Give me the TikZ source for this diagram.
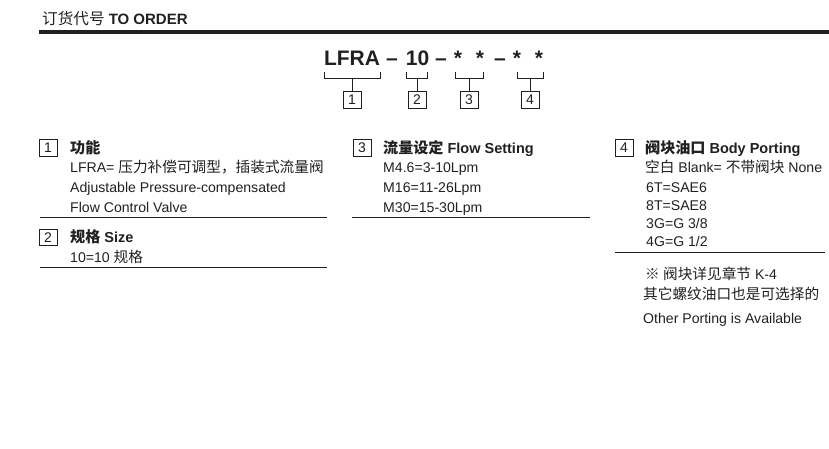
\documentclass[tikz,border=0pt]{standalone}
\usepackage{fontspec}
\setmainfont{Liberation Sans}
\newfontfamily\cjk[Scale=1.04]{Noto Sans CJK SC}
\newcommand\zh[1]{{\cjk #1}}
\newcommand\zhr[1]{{\cjk\mdseries #1}}
\newcommand\fsz[1]{\fontsize{#1}{#1}\selectfont}
\definecolor{ink}{HTML}{231F20}
\begin{document}
\begin{tikzpicture}[x=1pt,y=-1pt,
  txt/.style={anchor=base west,inner sep=0pt,text=ink,font=\fsz{14.1}},
  hd/.style={anchor=base west,inner sep=0pt,text=ink,font=\fsz{14.5}\bfseries},
  code/.style={anchor=base,inner sep=0pt,text=ink,font=\fsz{21}\bfseries},
  numbox/.style={draw=ink,line width=0.8pt,minimum width=18,minimum height=16.5,inner sep=0pt,text=ink,font=\fsz{14}},
  rule/.style={draw=ink,line width=0.9pt},
  brk/.style={draw=ink,line width=0.9pt}]
\useasboundingbox (0,0) rectangle (829,448);

% title
\node[anchor=base west,inner sep=0pt,text=ink,font=\fsz{15}\bfseries] (title) at (42,24) {\zhr{订货代号} TO ORDER};
\coordinate (tl) at (39,32);
\coordinate (tr) at (829,32);
\draw[draw=ink,line width=4pt] (tl) -- (tr);

% code
\node[code] (c1) at (352,65) {LFRA};
\node[code] (c2) at (392,65) {–};
\node[code] (c3) at (417.5,65) {10};
\node[code] (c4) at (441,65) {–};
\node[code] (c5) at (458,65) {*};
\node[code] (c6) at (480,65) {*};
\node[code] (c7) at (500,65) {–};
\node[code] (c8) at (517,65) {*};
\node[code] (c9) at (539,65) {*};

% number boxes under code
\node[numbox] (b1) at (352,100) {1};
\node[numbox] (b2) at (417,100) {2};
\node[numbox] (b3) at (469,100) {3};
\node[numbox] (b4) at (530,100) {4};

\coordinate (k1l) at (324,72); \coordinate (k1r) at (380,72); \coordinate (k1m) at (352,78);
\coordinate (k2l) at (406,72); \coordinate (k2r) at (427,72); \coordinate (k2m) at (417,78);
\coordinate (k3l) at (455,72); \coordinate (k3r) at (483,72); \coordinate (k3m) at (469,78);
\coordinate (k4l) at (517,72); \coordinate (k4r) at (543,72); \coordinate (k4m) at (530,78);
\foreach \i in {1,2,3,4}{
  \draw[brk] (k\i l) -- (k\i l |- k\i m) -- (k\i r |- k\i m) -- (k\i r);
  \draw[brk] (k\i m) -- (b\i.north);
}

% section 1
\node[numbox] (s1) at (48,148) {1};
\node[hd] (h1) at (70,153) {\zh{功能}};
\node[txt] (t11) at (70,172) {LFRA= \zh{压力补偿可调型，插装式流量阀}};
\node[txt] (t12) at (70,192) {Adjustable Pressure-compensated};
\node[txt] (t13) at (70,212) {Flow Control Valve};
\coordinate (r1l) at (40,217.5); \coordinate (r1r) at (327,217.5);
\draw[rule] (r1l) -- (r1r);

% section 2
\node[numbox] (s2) at (48,237.5) {2};
\node[hd] (h2) at (70,242.5) {\zh{规格} Size};
\node[txt] (t21) at (70,262) {10=10 \zh{规格}};
\coordinate (r2l) at (40,267.5); \coordinate (r2r) at (327,267.5);
\draw[rule] (r2l) -- (r2r);

% section 3
\node[numbox] (s3) at (362,148) {3};
\node[hd] (h3) at (383,153) {\zh{流量设定} Flow Setting};
\node[txt] (t31) at (383,172) {M4.6=3-10Lpm};
\node[txt] (t32) at (383,192) {M16=11-26Lpm};
\node[txt] (t33) at (383,212) {M30=15-30Lpm};
\coordinate (r3l) at (352,217); \coordinate (r3r) at (590,217);
\draw[rule] (r3l) -- (r3r);

% section 4
\node[numbox] (s4) at (624,148) {4};
\node[hd] (h4) at (645,153) {\zh{阀块油口} Body Porting};
\node[txt] (t41) at (645,172) {\zh{空白} Blank= \zh{不带阀块} None};
\node[txt] (t42) at (646,192) {6T=SAE6};
\node[txt] (t43) at (646,210.5) {8T=SAE8};
\node[txt] (t44) at (646,228.5) {3G=G 3/8};
\node[txt] (t45) at (646,246.5) {4G=G 1/2};
\coordinate (r4l) at (615,252.5); \coordinate (r4r) at (825,252.5);
\draw[rule] (r4l) -- (r4r);
\node[txt] (n1) at (645,279) {\zh{※ 阀块详见章节} K-4};
\node[txt] (n2) at (643,299) {\zh{其它螺纹油口也是可选择的}};
\node[txt] (n3) at (643,323) {Other Porting is Available};
\end{tikzpicture}
\end{document}
